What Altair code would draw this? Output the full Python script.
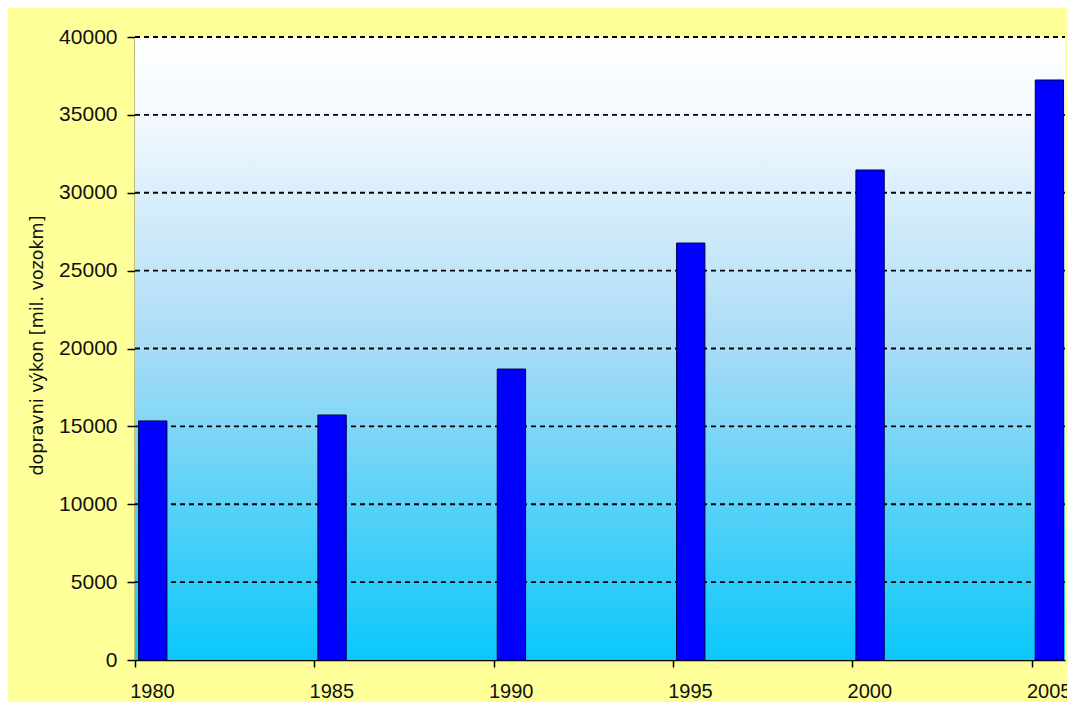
import altair as alt
import pandas as pd

# ---- data ----
years = [1980, 1985, 1990, 1995, 2000, 2005]
values = [15350, 15730, 18680, 26770, 31460, 37240]
y_ticks = [0, 5000, 10000, 15000, 20000, 25000, 30000, 35000, 40000]
x_domain = [1980, 2005.93]
y_title = "dopravni výkon [mil. vozokm]"

W, H = 930, 623

df = pd.DataFrame({"year": years, "value": values})
grid_df = pd.DataFrame({"value": y_ticks[1:]})

y_scale = alt.Scale(domain=[0, 40000], nice=False, zero=True, padding=0)
x_scale = alt.Scale(domain=x_domain, nice=False, zero=False, padding=0)

y_axis = alt.Axis(
    values=y_ticks, title=y_title, format="d",
    labelFontSize=21, labelPadding=10, tickSize=8,
    titleFont="DejaVu Sans", titleFontSize=17.5, titleFontWeight="normal",
    titleX=-98, titleY=308, titleAngle=-90,
    titleAlign="center", titleBaseline="middle",
)

bg = alt.Chart(pd.DataFrame({"a": [0]})).mark_rect(
    fill=alt.Gradient(
        gradient="linear",
        x1=0, x2=0, y1=0, y2=1,
        stops=[
            alt.GradientStop(offset=0, color="#FFFFFF"),
            alt.GradientStop(offset=0.12, color="#F4F9FE"),
            alt.GradientStop(offset=0.5, color="#A8DBF6"),
            alt.GradientStop(offset=1, color="#0AC8FB"),
        ],
    ),
    strokeWidth=0,
).encode(
    x=alt.value(0), x2=alt.value(W), y=alt.value(0), y2=alt.value(H)
)

grid = alt.Chart(grid_df).mark_rule(
    color="#000000", strokeDash=[5, 4], strokeWidth=1.8
).encode(
    y=alt.Y("value:Q", scale=y_scale, axis=y_axis),
    x=alt.value(0),
    x2=alt.value(W),
)

bars = alt.Chart(df).transform_calculate(
    x0="datum.year + 0.1", x1="datum.year + 0.89"
).mark_bar(
    color="#0000FF", stroke="#00004A", strokeWidth=1, orient="vertical"
).encode(
    x=alt.X(
        "x0:Q",
        scale=x_scale,
        axis=alt.Axis(
            values=years, format="d", title=None,
            labelOffset=17, labelFlush=False, labelFontSize=20,
            labelPadding=14, tickSize=7,
        ),
    ),
    x2="x1:Q",
    y=alt.Y("value:Q", scale=y_scale, axis=y_axis),
    y2=alt.datum(0),
)

chart = alt.layer(bg, grid, bars).properties(
    width=W,
    height=H,
    background="#FFFF99",
    padding={"left": 127, "top": 29, "right": 2, "bottom": 42},
    autosize=alt.AutoSizeParams(type="none"),
).configure_view(stroke=None).configure_axis(
    grid=False,
    domainColor="#000000",
    domainWidth=1.5,
    tickColor="#000000",
    tickWidth=1.5,
    labelColor="#111111",
    titleColor="#111111",
    labelFont="Liberation Sans",
)

chart.save("out.html", embed_options={"renderer": "svg", "actions": False})
